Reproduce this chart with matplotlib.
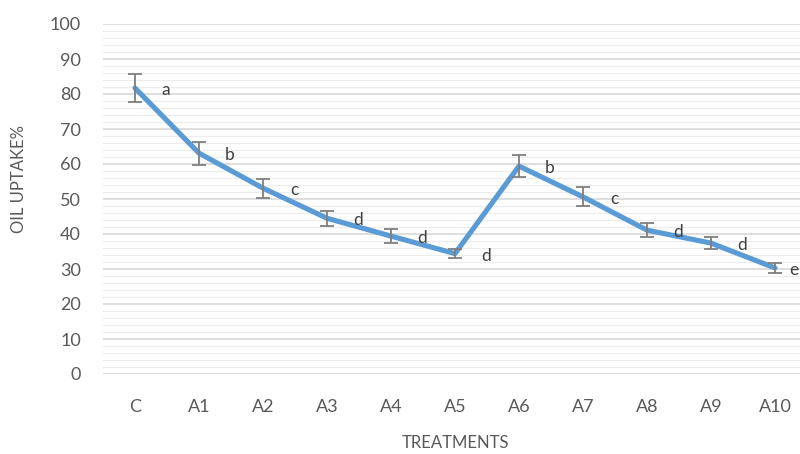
import matplotlib
matplotlib.use("Agg")
import matplotlib.pyplot as plt
from matplotlib.ticker import MultipleLocator
import numpy as np

plt.rcParams['font.family'] = ['Lato', 'DejaVu Sans']

categories = ["C", "A1", "A2", "A3", "A4", "A5", "A6", "A7", "A8", "A9", "A10"]
oil_uptake = [81.7, 63.1, 53.1, 44.5, 39.4, 34.4, 59.4, 50.6, 41.1, 37.4, 30.3]
errors = [4.0, 3.3, 2.7, 2.1, 2.0, 1.3, 3.1, 2.7, 2.0, 1.8, 1.4]
letters = ["a", "b", "c", "d", "d", "d", "b", "c", "d", "d", "e"]

fig = plt.figure(figsize=(8.0, 4.54), dpi=100)
W, H = 800, 454
left_px, right_px, top_px, bottom_px = 103, 807, 24, 374
ax = fig.add_axes([left_px / W, (H - bottom_px) / H,
                   (right_px - left_px) / W, (bottom_px - top_px) / H])

x = np.arange(len(categories))
ax.plot(x, oil_uptake, color="#5b9bd5", linewidth=3.7, solid_joinstyle="round",
        solid_capstyle="round", zorder=3)
ax.errorbar(x, oil_uptake, yerr=errors, fmt="none", ecolor="#7f7f7f",
            elinewidth=1.3, capsize=5, capthick=1.3, zorder=4)

for i, (xi, yi, lab) in enumerate(zip(x, oil_uptake, letters)):
    dx = 31 if i < len(categories) - 1 else 19
    ax.annotate(lab, (xi, yi), xytext=(dx, -2), textcoords="offset pixels",
                ha="center", va="center", fontsize=12.5, color="#404040", zorder=5,
                annotation_clip=False)

ax.set_xlim(-0.5, len(categories) - 0.5)
ax.set_ylim(0, 100)
ax.yaxis.set_major_locator(MultipleLocator(10))
ax.yaxis.set_minor_locator(MultipleLocator(2))
ax.grid(axis="y", which="major", color="#d4d4d4", linewidth=1.1, zorder=0)
ax.grid(axis="y", which="minor", color="#ececec", linewidth=0.9, zorder=0)
ax.set_axisbelow(True)

ax.set_xticks(x)
ax.set_xticklabels(categories)
for s in ax.spines.values():
    s.set_visible(False)
ax.tick_params(axis="both", which="both", length=0, labelsize=13, labelcolor="#595959")
ax.tick_params(axis="x", pad=18)
ax.tick_params(axis="y", pad=16)

ax.set_xlabel("TREATMENTS", fontsize=12, color="#595959", va="center")
ax.xaxis.set_label_coords(0.5, (bottom_px - 443) / (bottom_px - top_px))
ax.set_ylabel("OIL UPTAKE%", fontsize=12, color="#595959", va="center")
ax.yaxis.set_label_coords((19 - left_px) / (right_px - left_px),
                          (bottom_px - 179) / (bottom_px - top_px))

fig.savefig("out.png", dpi=100)
